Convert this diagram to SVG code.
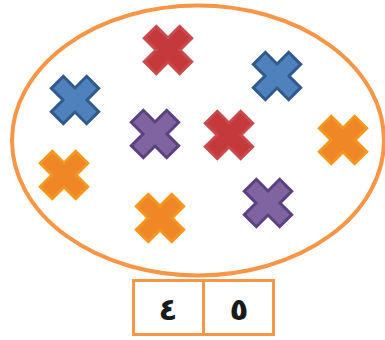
<svg xmlns="http://www.w3.org/2000/svg" xmlns:xlink="http://www.w3.org/1999/xlink" width="385" height="340" viewBox="0 0 385 340">
<style>
.ring{fill:none;stroke:#f79646;stroke-width:4}
.box{fill:#fff;stroke:#f79646;stroke-width:3}
.red{fill:#c6393a;stroke:#c94a4c;stroke-width:3;stroke-linejoin:miter}
.blue{fill:#4f81bd;stroke:#2f5a8b;stroke-width:3;stroke-linejoin:miter}
.purple{fill:#8064a2;stroke:#5a4180;stroke-width:3;stroke-linejoin:miter}
.orange{fill:#ef8727;stroke:#f7961e;stroke-width:3;stroke-linejoin:miter}
.num{font-family:"DejaVu Sans","Noto Sans",sans-serif;font-size:31px;font-weight:bold;fill:#1a1a1a;text-anchor:middle}
</style>
<defs>
<polygon id="x" transform="rotate(45)" points="-8.5,-25 8.5,-25 8.5,-8.5 25,-8.5 25,8.5 8.5,8.5 8.5,25 -8.5,25 -8.5,8.5 -25,8.5 -25,-8.5 -8.5,-8.5"/>
</defs>
<g id="set"><ellipse class="ring" cx="198" cy="140.5" rx="186" ry="135"/></g>
<g id="x1" transform="translate(168,50)"><use xlink:href="#x" class="red"/></g>
<g id="x2" transform="translate(75,100)"><use xlink:href="#x" class="blue"/></g>
<g id="x3" transform="translate(277,76)"><use xlink:href="#x" class="blue"/></g>
<g id="x4" transform="translate(155,134)"><use xlink:href="#x" class="purple"/></g>
<g id="x5" transform="translate(229,135)"><use xlink:href="#x" class="red"/></g>
<g id="x6" transform="translate(343,140)"><use xlink:href="#x" class="orange"/></g>
<g id="x7" transform="translate(64,175)"><use xlink:href="#x" class="orange"/></g>
<g id="x8" transform="translate(160,218)"><use xlink:href="#x" class="orange"/></g>
<g id="x9" transform="translate(268,203)"><use xlink:href="#x" class="purple"/></g>
<g id="cell-tens"><rect class="box" x="133.5" y="280.5" width="70" height="54"/><text class="num" x="168" y="320">٤</text></g>
<g id="cell-ones"><rect class="box" x="203.5" y="280.5" width="70" height="54"/><text class="num" x="239" y="320">٥</text></g>
</svg>
